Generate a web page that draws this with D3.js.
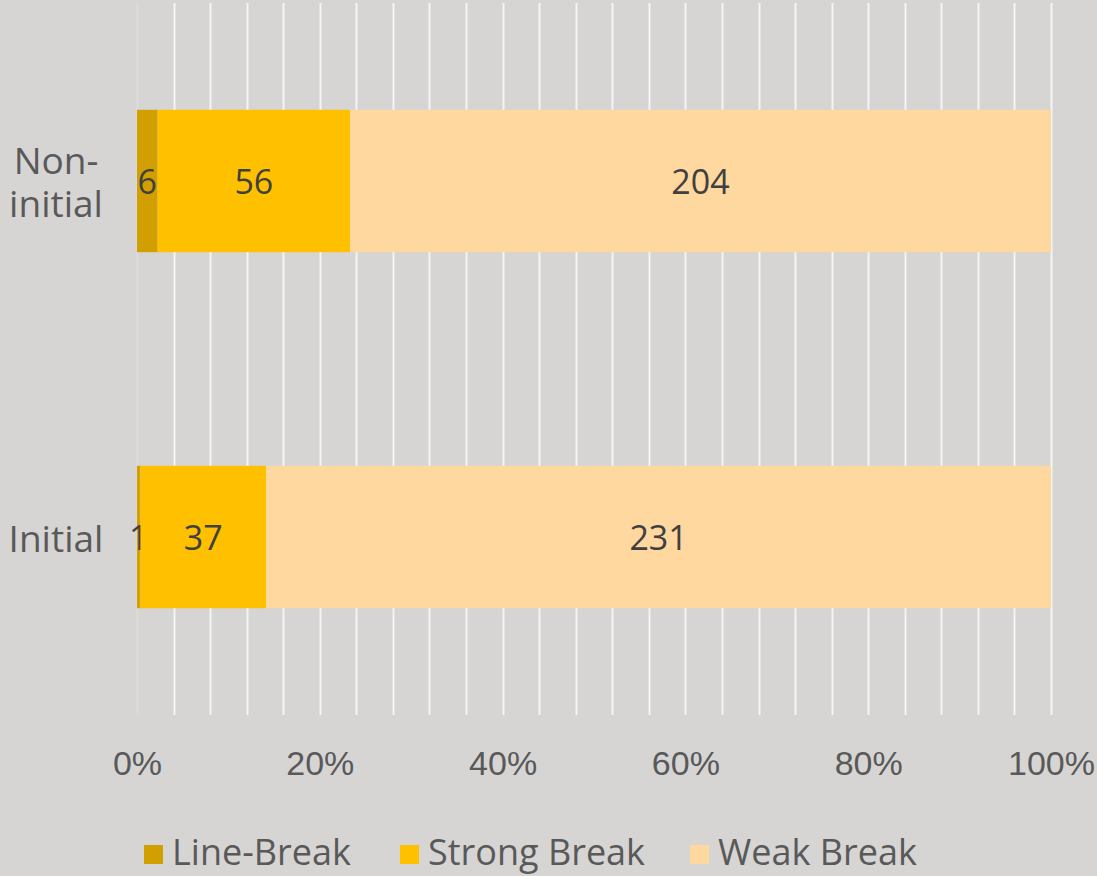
<!DOCTYPE html>
<html><head><meta charset="utf-8">
<script src="https://cdn.jsdelivr.net/npm/d3@7"></script>
<style>
html,body{margin:0;padding:0;background:#d6d5d4;}
svg{display:block;font-family:"Open Sans","Noto Sans",sans-serif;}
</style></head>
<body><svg id="chart" width="1097" height="876"></svg>
<script>
const categories = ["Non-initial", "Initial"];
const categoryLines = [["Non-", "initial"], ["Initial"]];
const seriesNames = ["Line-Break", "Strong Break", "Weak Break"];
const lineBreak = [6, 1];
const strongBreak = [56, 37];
const weakBreak = [204, 231];
const tickValues = [0, 0.2, 0.4, 0.6, 0.8, 1.0];
const gridValues = d3.range(0, 26).map(i => i * 0.04);
const colors = ["#d29f00", "#ffc000", "#ffd89f"];

const svg = d3.select("#chart");
const x = d3.scaleLinear().domain([0, 1]).range([137, 1051]);
const y = d3.scaleBand().domain(categories).range([3, 715]).paddingInner(0.6).paddingOuter(0.3);

const rows = categories.map((c, i) => ({cat: c, vals: [lineBreak[i], strongBreak[i], weakBreak[i]]}));

// gridlines
svg.append("g").selectAll("line").data(gridValues).join("line")
  .attr("x1", d => Math.round(x(d)) + 0.5).attr("x2", d => Math.round(x(d)) + 0.5)
  .attr("y1", 3).attr("y2", 715)
  .attr("stroke", d => d === 0 ? "#dcdbda" : "#f4f4f4").attr("stroke-width", 2);

// bars
const g = svg.append("g");
rows.forEach(r => {
  const total = d3.sum(r.vals);
  let acc = 0;
  r.vals.forEach((v, j) => {
    const x0 = x(acc / total), x1 = x((acc + v) / total);
    g.append("rect").attr("x", x0).attr("y", y(r.cat)).attr("width", x1 - x0)
      .attr("height", y.bandwidth()).attr("fill", colors[j]);
    g.append("text").attr("x", (x0 + x1) / 2).attr("y", y(r.cat) + y.bandwidth() / 2)
      .attr("text-anchor", "middle").attr("dominant-baseline", "central")
      .attr("font-size", 34).attr("fill", "#404040").text(v);
    acc += v;
  });
});

// category labels (one text per category, wrapped with tspans)
categories.forEach((c, i) => {
  const lines = categoryLines[i];
  const cy = y(c) + y.bandwidth() / 2;
  const lh = 43;
  const t = svg.append("text").attr("text-anchor", "middle")
    .attr("font-size", 37).attr("fill", "#595959");
  lines.forEach((s, k) => {
    t.append("tspan").attr("x", 56).attr("y", cy + (k - (lines.length - 1) / 2) * lh)
      .attr("dominant-baseline", "central").text(s);
  });
});

// x axis
const axis = d3.axisBottom(x).tickValues(tickValues).tickFormat(d3.format(".0%")).tickSize(0).tickPadding(0);
const ax = svg.append("g").attr("transform", "translate(0,763)").call(axis);
ax.select(".domain").remove();
ax.selectAll("text").attr("font-size", 34).attr("fill", "#595959")
  .attr("dy", null).attr("dominant-baseline", "central").style("font-family", "inherit");

// legend
const legX = [144, 400, 690];
const leg = svg.append("g");
seriesNames.forEach((s, i) => {
  leg.append("rect").attr("x", legX[i]).attr("y", 845).attr("width", 19).attr("height", 19).attr("fill", colors[i]);
  leg.append("text").attr("x", legX[i] + 28).attr("y", 865).attr("font-size", 36).attr("fill", "#595959").text(s);
});
</script></body></html>
